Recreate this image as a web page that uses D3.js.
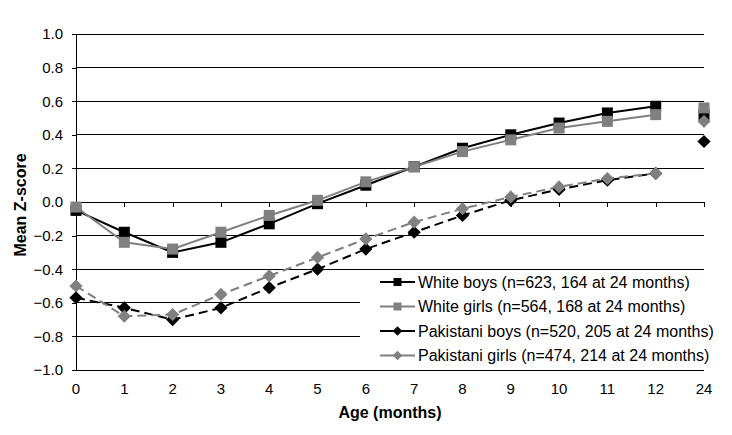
<!DOCTYPE html>
<html>
<head>
<meta charset="utf-8">
<script src="https://cdn.jsdelivr.net/npm/d3@7"></script>
<style>
  body { margin: 0; background: #fff; }
  text { font-family: "Liberation Sans", Arial, sans-serif; }
</style>
</head>
<body>
<div id="chart"></div>
<script>
// Données
const months = ['0', '1', '2', '3', '4', '5', '6', '7', '8', '9', '10', '11', '12', '24'];
const whiteBoys = [-0.05, -0.18, -0.30, -0.24, -0.13, -0.01, 0.10, 0.21, 0.32, 0.40, 0.47, 0.53, 0.57, 0.52];
const whiteGirls = [-0.03, -0.24, -0.28, -0.18, -0.08, 0.01, 0.12, 0.21, 0.30, 0.37, 0.44, 0.48, 0.52, 0.56];
const pakBoys = [-0.57, -0.63, -0.70, -0.63, -0.51, -0.40, -0.28, -0.18, -0.08, 0.01, 0.075, 0.13, 0.17, 0.36];
const pakGirls = [-0.50, -0.68, -0.67, -0.55, -0.44, -0.33, -0.22, -0.12, -0.04, 0.03, 0.09, 0.14, 0.17, 0.48];
const yTicks = [-1.0, -0.8, -0.6, -0.4, -0.2, 0.0, 0.2, 0.4, 0.6, 0.8, 1.0];

const series = [
  { name: 'White boys (n=623, 164 at 24 months)', values: whiteBoys, color: '#000', shape: 'square', dash: null },
  { name: 'White girls (n=564, 168 at 24 months)', values: whiteGirls, color: '#808080', shape: 'square', dash: null },
  { name: 'Pakistani boys (n=520, 205 at 24 months)', values: pakBoys, color: '#000', shape: 'diamond', dash: '9,5' },
  { name: 'Pakistani girls (n=474, 214 at 24 months)', values: pakGirls, color: '#808080', shape: 'diamond', dash: '9,5' }
];

const width = 732, height = 435;
const margin = { top: 34, right: 28, bottom: 65, left: 76 };

const svg = d3.select('#chart')
  .append('svg')
  .attr('width', width)
  .attr('height', height);

const x = d3.scalePoint()
  .domain(months)
  .range([margin.left, width - margin.right]);

const y = d3.scaleLinear()
  .domain([-1, 1])
  .range([height - margin.bottom, margin.top]);

// Grille horizontale
svg.append('g')
  .selectAll('line')
  .data(yTicks)
  .join('line')
  .attr('x1', margin.left)
  .attr('x2', width - margin.right)
  .attr('y1', d => y(d))
  .attr('y2', d => y(d))
  .attr('stroke', '#000')
  .attr('stroke-width', 1)
  .attr('shape-rendering', 'crispEdges');

// Axe Y
const yAxis = svg.append('g')
  .attr('transform', `translate(${margin.left},0)`)
  .call(d3.axisLeft(y).tickValues(yTicks).tickFormat(d3.format('.1f')).tickSize(4).tickPadding(9));
yAxis.select('.domain').attr('stroke', '#000').attr('shape-rendering', 'crispEdges');
yAxis.selectAll('.tick line').attr('shape-rendering', 'crispEdges');
yAxis.selectAll('text')
  .style('font-size', '15px')
  .style('font-family', '"Liberation Sans", Arial, sans-serif')
  .attr('fill', '#000');

// Axe X (à la valeur 0)
const xAxis = svg.append('g')
  .attr('transform', `translate(0,${y(0)})`)
  .call(d3.axisBottom(x).tickSize(5).tickSizeOuter(0));
xAxis.select('.domain').attr('stroke', '#000').attr('shape-rendering', 'crispEdges');
xAxis.selectAll('.tick line').attr('shape-rendering', 'crispEdges');
xAxis.selectAll('text').remove();

// Étiquettes X en bas
svg.append('g')
  .selectAll('text')
  .data(months)
  .join('text')
  .attr('x', d => x(d))
  .attr('y', y(-1) + 24)
  .attr('text-anchor', 'middle')
  .style('font-size', '15px')
  .text(d => d);

// Titres des axes
svg.append('text')
  .attr('x', (margin.left + width - margin.right) / 2)
  .attr('y', 418)
  .attr('text-anchor', 'middle')
  .style('font-size', '16px')
  .style('font-weight', 'bold')
  .text('Age (months)');

svg.append('text')
  .attr('transform', `translate(26,205) rotate(-90)`)
  .attr('text-anchor', 'middle')
  .style('font-size', '16px')
  .style('font-weight', 'bold')
  .text('Mean Z-score');

// Lignes (sans le point à 24 mois)
const line = d3.line()
  .defined((d, i) => i < 13)
  .x((d, i) => x(months[i]))
  .y(d => y(d));

const symbolPath = (shape, s) => shape === 'square'
  ? `M${-s},${-s}H${s}V${s}H${-s}Z`
  : `M0,${-s * 1.2}L${s * 1.2},0L0,${s * 1.2}L${-s * 1.2},0Z`;

series.forEach(s => {
  svg.append('path')
    .datum(s.values)
    .attr('d', line)
    .attr('fill', 'none')
    .attr('stroke', s.color)
    .attr('stroke-width', 2)
    .attr('stroke-dasharray', s.dash);
});

series.forEach(s => {
  svg.append('g')
    .selectAll('path')
    .data(s.values)
    .join('path')
    .attr('transform', (d, i) => `translate(${x(months[i])},${y(d)})`)
    .attr('d', symbolPath(s.shape, 5.5))
    .attr('fill', s.color);
});

// Légende
const legend = svg.append('g').attr('transform', 'translate(360,270)');
legend.append('rect')
  .attr('width', 345)
  .attr('height', 99)
  .attr('fill', '#fff');

const items = legend.selectAll('g')
  .data(series)
  .join('g')
  .attr('transform', (d, i) => `translate(0,${12 + i * 24.5})`);

items.append('line')
  .attr('x1', 20)
  .attr('x2', 55)
  .attr('stroke', d => d.color)
  .attr('stroke-width', 2);

items.append('path')
  .attr('transform', 'translate(37.5,0)')
  .attr('d', d => symbolPath(d.shape, 4))
  .attr('fill', d => d.color);

items.append('text')
  .attr('x', 58)
  .attr('dy', '0.35em')
  .style('font-size', '16px')
  .text(d => d.name);
</script>
</body>
</html>
